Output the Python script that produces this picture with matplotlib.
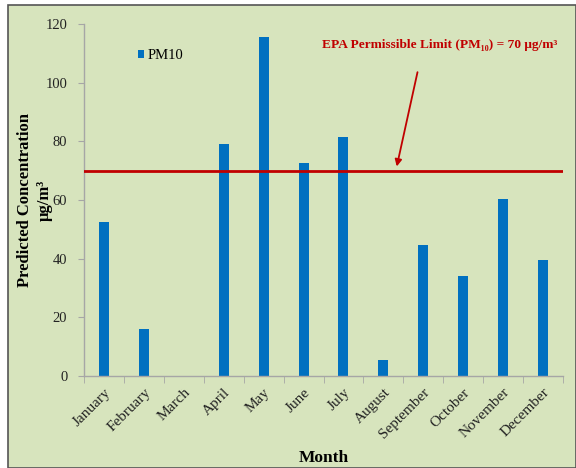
import matplotlib
matplotlib.use("Agg")
import matplotlib.pyplot as plt
from matplotlib.patches import Rectangle

months = ["January", "February", "March", "April", "May", "June", "July",
          "August", "September", "October", "November", "December"]
pm10 = [52.5, 16, 0, 79, 115.5, 72.5, 81.5, 5.5, 44.5, 34, 60.2, 39.5]
epa_limit = 70
y_ticks = [0, 20, 40, 60, 80, 100, 120]

bg = "#D7E4BD"
bar_color = "#0070C0"
red = "#C00000"
serif = ["Liberation Serif", "DejaVu Serif"]

fig = plt.figure(figsize=(5.76, 4.68), dpi=100, facecolor="white")
frame = Rectangle((8 / 576, 0), 1 - 8 / 576, 1 - 5 / 468,
                  transform=fig.transFigure, facecolor=bg,
                  edgecolor="#555555", linewidth=1.2, zorder=-10)
fig.add_artist(frame)

ax = fig.add_axes([84 / 576, 1 - 376 / 468, (563 - 84) / 576, (376 - 24) / 468])
ax.set_facecolor("none")

x = list(range(len(months)))
ax.bar(x, pm10, width=0.25, color=bar_color, label="PM10", zorder=2)
ax.axhline(epa_limit, color=red, linewidth=2.0, zorder=3)

ax.set_xlim(-0.5, len(months) - 0.5)
ax.set_ylim(0, 120)
ax.set_yticks(y_ticks)
ax.set_xticks(x)
ax.set_xticklabels(months, rotation=45, ha="right", rotation_mode="anchor",
                   fontfamily=serif, fontsize=11, color="#222222")
ax.set_xticks([i - 0.5 for i in range(len(months) + 1)], minor=True)
ax.tick_params(axis="x", which="major", length=0, pad=7)
ax.tick_params(axis="x", which="minor", length=5, color="#A6A6A6", direction="out")
ax.tick_params(axis="y", length=4, color="#A6A6A6", direction="out", pad=8)
for lbl in ax.get_yticklabels():
    lbl.set_fontfamily(serif)
    lbl.set_fontsize(10.5)
    lbl.set_color("#222222")

for side in ("top", "right"):
    ax.spines[side].set_visible(False)
for side in ("left", "bottom"):
    ax.spines[side].set_color("#A6A6A6")
    ax.spines[side].set_linewidth(1.0)

ax.set_xlabel("Month", fontfamily=serif, fontsize=12.5, fontweight="bold")
ax.xaxis.set_label_coords(0.5, -0.21)
ax.set_ylabel("Predicted Concentration\nμg/m³", fontfamily=serif, fontsize=12,
              fontweight="bold", linespacing=1.25)
ax.yaxis.set_label_coords(-0.066, 0.5)

leg = ax.legend(loc="upper left", bbox_to_anchor=(0.085, 0.965), frameon=False,
                prop={"family": serif, "size": 10.5}, handlelength=0.45,
                handleheight=0.45, handletextpad=0.25)

ax.annotate("", xy=(7.32, epa_limit + 0.5), xytext=(7.87, 104.5),
            arrowprops=dict(arrowstyle="-|>", color=red, lw=1.3,
                            mutation_scale=10), zorder=4)
ax.text(8.4, 112.8, "EPA Permissible Limit (PM₁₀) = 70 μg/m³",
        color=red, fontfamily=serif, fontsize=9.6, fontweight="bold",
        ha="center", va="center")

fig.savefig("out.png", dpi=100, facecolor=fig.get_facecolor())
